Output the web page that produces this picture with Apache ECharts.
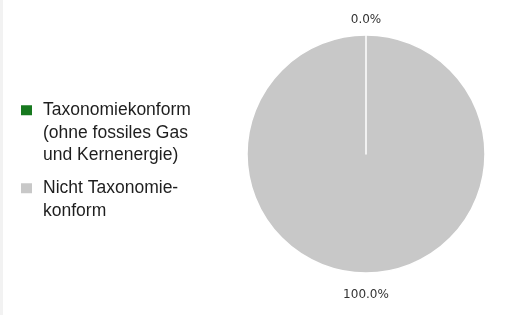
<!DOCTYPE html>
<html>
<head>
<meta charset="utf-8">
<script src="https://cdn.jsdelivr.net/npm/echarts@6/dist/echarts.min.js"></script>
<style>
    html, body {
        margin: 0;
        padding: 0;
        background: #ffffff;
    }
    #chart {
        width: 506px;
        height: 315px;
        border-left: 3px solid #f2f2f2;
    }
</style>
</head>
<body>
<div id="chart"></div>
<script>
    // Kategorien und Anteile (in %)
    const categories = ['Taxonomiekonform\n(ohne fossiles Gas\nund Kernenergie)', 'Nicht Taxonomie-\nkonform'];
    const shares = [0.0, 100.0];
    const sliceColors = ['#17791f', '#c8c8c8'];

    const chartView = echarts.init(document.getElementById('chart'));

    // Reihenfolge umgedreht, damit die weisse Kante des 0%-Segments oben liegt
    let pieData = categories.map(function (name, i) {
        return {name: name, value: shares[i], itemStyle: {color: sliceColors[i]}};
    }).reverse();

    let option = {
        animation: false,
        legend: {
            orient: 'vertical',
            left: 18,
            top: 54,
            padding: 0,
            itemGap: -12,
            itemWidth: 11,
            itemHeight: 10,
            icon: 'rect',
            selectedMode: false,
            itemStyle: {borderWidth: 0},
            textStyle: {
                fontFamily: 'Liberation Sans',
                fontSize: 17.5,
                lineHeight: 22.5,
                color: '#1e1e1e',
                padding: [0, 0, 0, 6]
            },
            // Leerzeilen davor, damit die erste Zeile neben dem Symbol steht
            formatter: function (name) {
                let lines = name.split('\n').length;
                return '\n'.repeat(lines - 1) + name;
            },
            data: categories
        },
        series: [
            {
                type: 'pie',
                center: [363, 154],
                radius: 119,
                startAngle: 90,
                clockwise: true,
                avoidLabelOverlap: false,
                itemStyle: {
                    borderColor: '#ffffff',
                    borderWidth: 1.5
                },
                label: {
                    show: true,
                    position: 'outside',
                    distanceToLabelLine: 0,
                    fontFamily: 'DejaVu Sans',
                    fontSize: 12,
                    color: '#333333',
                    formatter: function (p) {
                        return p.value.toFixed(1) + '%';
                    }
                },
                labelLine: {
                    show: true,
                    length: 18.5,
                    length2: 0,
                    lineStyle: {opacity: 0}
                },
                // Beschriftung mittig über/unter dem Kreis
                labelLayout: function (p) {
                    return {align: 'center', dy: 3.5};
                },
                emphasis: {disabled: true},
                data: pieData
            }
        ]
    };
    chartView.setOption(option);
</script>
</body>
</html>
